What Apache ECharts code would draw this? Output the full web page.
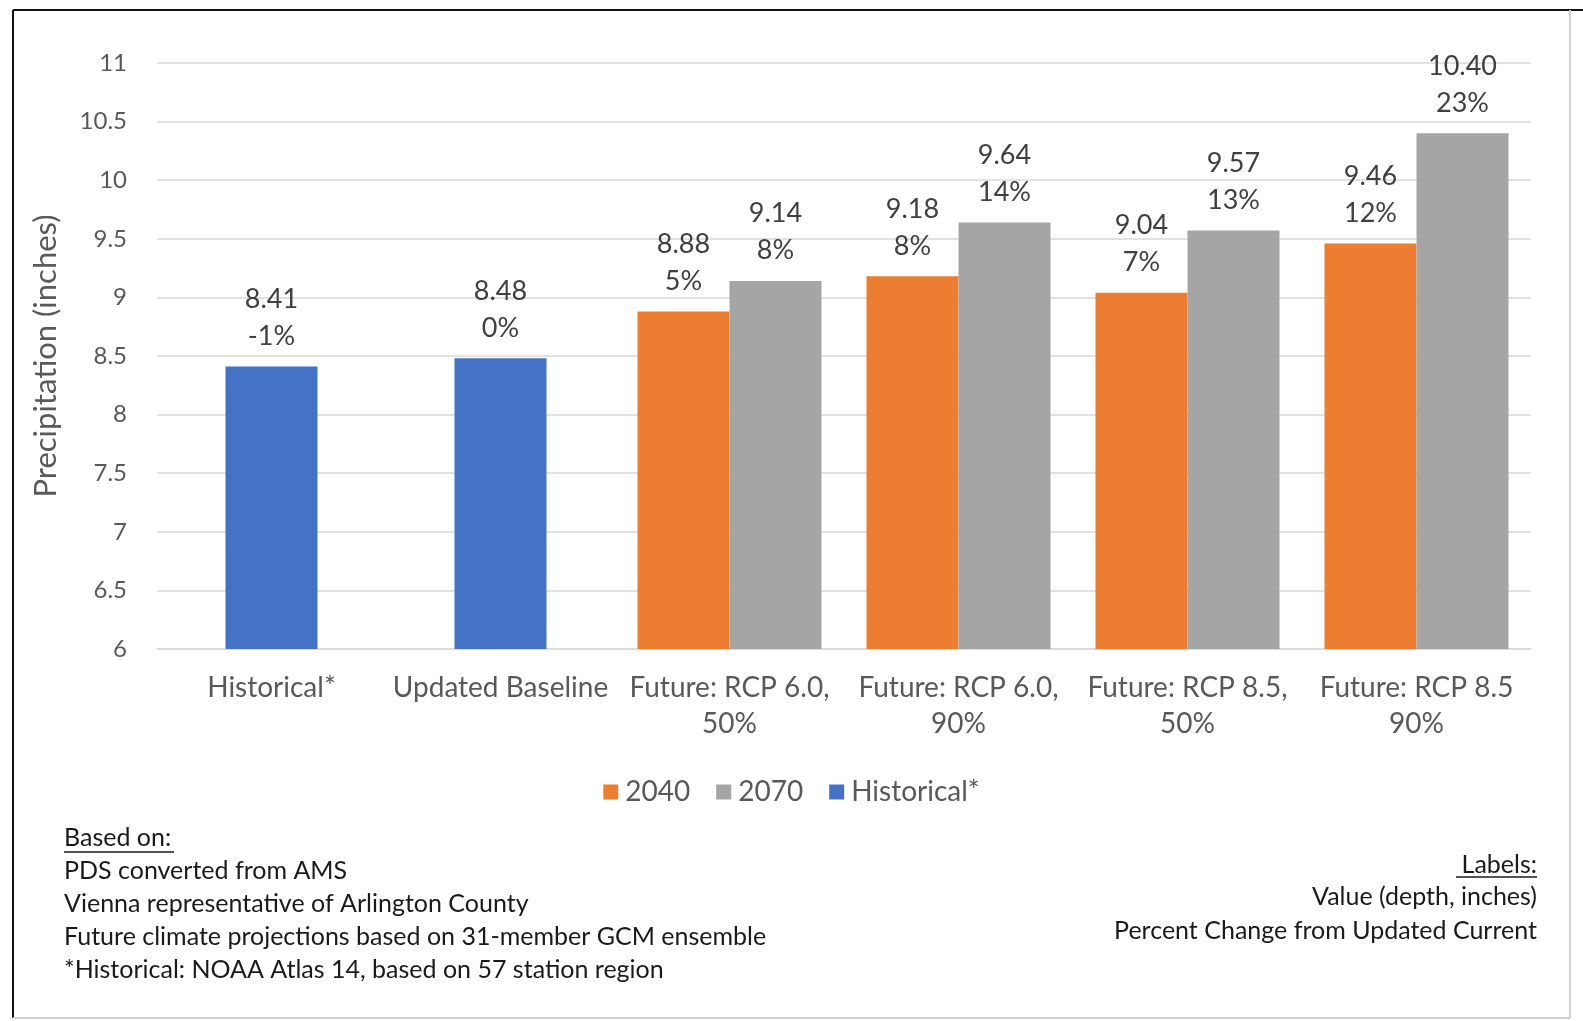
<!DOCTYPE html>
<html>
<head>
<meta charset="utf-8">
<script src="https://cdn.jsdelivr.net/npm/echarts@6/dist/echarts.min.js"></script>
<style>
  html, body { margin: 0; padding: 0; background: #fff; }
  #chart { width: 1583px; height: 1021px; }
</style>
</head>
<body>
<div id="chart"></div>
<script>
const categories = [
  'Historical*',
  'Updated Baseline',
  'Future: RCP 6.0,\n50%',
  'Future: RCP 6.0,\n90%',
  'Future: RCP 8.5,\n50%',
  'Future: RCP 8.5\n90%'
]
const historical = [8.41, 8.48, null, null, null, null]
const historicalPct = ['-1%', '0%', '', '', '', '']
const y2040 = [null, null, 8.88, 9.18, 9.04, 9.46]
const y2040Pct = ['', '', '5%', '8%', '7%', '12%']
const y2070 = [null, null, 9.14, 9.64, 9.57, 10.40]
const y2070Pct = ['', '', '8%', '14%', '13%', '23%']
const yTicks = { min: 6, max: 11, interval: 0.5 }

const notesLeft = [
  'PDS converted from AMS',
  'Vienna representative of Arlington County',
  'Future climate projections based on 31-member GCM ensemble',
  '*Historical: NOAA Atlas 14, based on 57 station region'
]
const notesRight = ['Value (depth, inches)', 'Percent Change from Updated Current']

const FONT = 'Lato'
const NOTE_FONT = '25px ' + FONT

function dataLabel(pcts) {
  return {
    show: true,
    position: 'top',
    distance: 12,
    fontFamily: FONT,
    fontSize: 27,
    lineHeight: 37,
    color: '#404040',
    formatter: p => p.value.toFixed(2) + '\n' + pcts[p.dataIndex]
  }
}

function note(text, x, y, align) {
  return {
    type: 'text', x: x, y: y,
    style: { text: text, font: NOTE_FONT, fill: '#1a1a1a', align: align, verticalAlign: 'middle' }
  }
}

const chart = echarts.init(document.getElementById('chart'))

const graphics = [
  // frame
  { type: 'line', shape: { x1: 13, y1: 10, x2: 1583, y2: 10 }, style: { stroke: '#111', lineWidth: 2 } },
  { type: 'line', shape: { x1: 13, y1: 10, x2: 13, y2: 1018 }, style: { stroke: '#111', lineWidth: 2 } },
  { type: 'line', shape: { x1: 1570, y1: 10, x2: 1570, y2: 1018 }, style: { stroke: '#d0d0d0', lineWidth: 2 } },
  { type: 'line', shape: { x1: 13, y1: 1018, x2: 1570, y2: 1018 }, style: { stroke: '#d0d0d0', lineWidth: 2 } },
  note('Based on:', 64, 838, 'left'),
  { type: 'line', shape: { x1: 64, y1: 852, x2: 174, y2: 852 }, style: { stroke: '#1a1a1a', lineWidth: 1.5 } },
  note('Labels:', 1537, 865, 'right'),
  { type: 'line', shape: { x1: 1456, y1: 877, x2: 1537, y2: 877 }, style: { stroke: '#1a1a1a', lineWidth: 1.5 } }
]
notesLeft.forEach((t, i) => graphics.push(note(t, 64, 871 + i * 33, 'left')))
notesRight.forEach((t, i) => graphics.push(note(t, 1537, 897 + i * 34, 'right')))

const option = {
  animation: false,
  backgroundColor: '#fff',
  grid: { left: 157, right: 52, top: 63, bottom: 372 },
  legend: {
    data: ['2040', '2070', 'Historical*'],
    left: 'center',
    top: 773,
    itemWidth: 15,
    itemHeight: 15,
    itemGap: 26,
    icon: 'rect',
    textStyle: { fontFamily: FONT, fontSize: 28, color: '#595959', padding: [0, 0, 0, 2] }
  },
  xAxis: [
    {
      type: 'category',
      data: categories,
      axisTick: { show: false },
      axisLine: { lineStyle: { color: '#d9d9d9', width: 1.5 } },
      axisLabel: {
        interval: 0,
        margin: 21,
        fontFamily: FONT,
        fontSize: 28,
        lineHeight: 36,
        color: '#595959'
      }
    },
    {
      type: 'category',
      data: categories,
      show: false
    }
  ],
  yAxis: {
    type: 'value',
    min: yTicks.min,
    max: yTicks.max,
    interval: yTicks.interval,
    name: 'Precipitation (inches)',
    nameLocation: 'middle',
    nameGap: 96,
    nameTextStyle: { fontFamily: FONT, fontSize: 31, color: '#595959' },
    axisLine: { show: false },
    axisTick: { show: false },
    axisLabel: { fontFamily: FONT, fontSize: 24, color: '#595959', margin: 30 },
    splitLine: { lineStyle: { color: '#d9d9d9', width: 1.5 } }
  },
  series: [
    {
      name: '2040',
      type: 'bar',
      xAxisIndex: 0,
      data: y2040,
      barWidth: 92,
      barGap: '0%',
      itemStyle: { color: '#ED7D31' },
      label: dataLabel(y2040Pct)
    },
    {
      name: '2070',
      type: 'bar',
      xAxisIndex: 0,
      data: y2070,
      barWidth: 92,
      barGap: '0%',
      itemStyle: { color: '#A5A5A5' },
      label: dataLabel(y2070Pct)
    },
    {
      name: 'Historical*',
      type: 'bar',
      xAxisIndex: 1,
      data: historical,
      barWidth: 92,
      itemStyle: { color: '#4472C4' },
      label: dataLabel(historicalPct)
    }
  ],
  graphic: graphics
}

chart.setOption(option)
</script>
</body>
</html>
